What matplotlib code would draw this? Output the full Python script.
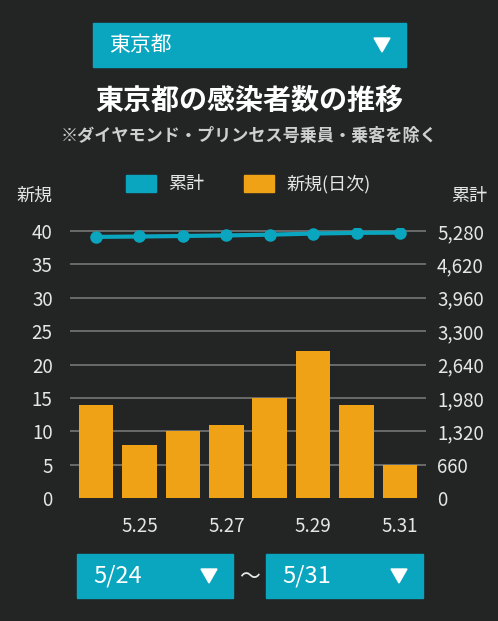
import numpy as np
import matplotlib
matplotlib.use('Agg')
import matplotlib.pyplot as plt
from matplotlib.patches import Rectangle, Polygon

plt.rcParams['font.family'] = ['Noto Sans CJK JP', 'DejaVu Sans']

# data
dates = ['5.24', '5.25', '5.26', '5.27', '5.28', '5.29', '5.30', '5.31']
new_cases = [14, 8, 10, 11, 15, 22, 14, 5]
total_cases = [5164, 5172, 5182, 5193, 5208, 5230, 5244, 5249]
left_ticks = [0, 5, 10, 15, 20, 25, 30, 35, 40]
right_ticks = [0, 660, 1320, 1980, 2640, 3300, 3960, 4620, 5280]
shown_dates = ['5.25', '5.27', '5.29', '5.31']

BG = '#232525'
TEAL = '#0aa6bf'
ORANGE = '#f0a216'
GRID = '#6f7070'
TXT = '#e6e6e6'

W, H = 498, 621
fig = plt.figure(figsize=(W / 100, H / 100), dpi=100, facecolor=BG)

# main chart axes, placed in pixels
x0, x1 = 70, 426
y_zero, y_top = 498, 227.7
ax = fig.add_axes([x0 / W, 1 - y_zero / H, (x1 - x0) / W, (y_zero - y_top) / H])
ax.set_facecolor('none')
ymax = 40.5
ax.set_ylim(0, ymax)
ax.set_xlim(-0.6, 7.6)

for v in left_ticks[1:]:
    ax.axhline(v, color=GRID, lw=1.3, zorder=0)

x = np.arange(len(dates))
ax.bar(x, new_cases, width=0.8, color=ORANGE, zorder=2)

ax.set_yticks(left_ticks)
ax.set_yticklabels([str(v) for v in left_ticks])
ax.set_xticks([dates.index(d) for d in shown_dates])
ax.set_xticklabels(shown_dates)
ax.tick_params(length=0, colors=TXT, labelsize=13.5)
ax.tick_params(axis='y', pad=12.5)
ax.tick_params(axis='x', pad=13)
for s in ax.spines.values():
    s.set_visible(False)

ax2 = ax.twinx()
ax2.set_ylim(0, 5280 * ymax / 40)
ax2.plot(x, total_cases, color=TEAL, lw=3, marker='o', ms=8, zorder=3)
ax2.set_yticks(right_ticks)
ax2.set_yticklabels([f'{v:,}' for v in right_ticks])
ax2.tick_params(length=0, colors=TXT, labelsize=13.5, pad=8)
for s in ax2.spines.values():
    s.set_visible(False)

# overlay in pixel coords for the page furniture
ov = fig.add_axes([0, 0, 1, 1], zorder=-1)
ov.set_xlim(0, W)
ov.set_ylim(H, 0)
ov.axis('off')
ov.patch.set_alpha(0)

def dropdown(xa, xb, ya, yb, label, size):
    ov.add_patch(Rectangle((xa, ya), xb - xa, yb - ya, color=TEAL))
    ov.text(xa + 16, (ya + yb) / 2, label, color='white', fontsize=size,
            va='center', ha='left')
    cx, cy = xb - 24, (ya + yb) / 2
    ov.add_patch(Polygon([(cx - 8, cy - 7), (cx + 8, cy - 7), (cx, cy + 7)],
                         color='white'))

dropdown(93, 406, 23, 67, '東京都', 15)
dropdown(77, 233, 554, 598, '5/24', 17)
dropdown(266, 423, 554, 598, '5/31', 17)
ov.text(249.5, 577, '〜', color=TXT, fontsize=15, ha='center', va='center')

ov.text(249, 101, '東京都の感染者数の推移', color='white', fontsize=20.2,
        fontweight='bold', ha='center', va='center')
ov.text(249, 136, '※ダイヤモンド・プリンセス号乗員・乗客を除く', color='#cfcfcf',
        fontsize=12.3, fontweight='bold', ha='center', va='center')

# legend
ov.add_patch(Rectangle((126, 175), 30, 17, color=TEAL))
ov.text(168, 184, '累計', color=TXT, fontsize=13, va='center')
ov.add_patch(Rectangle((244, 175), 30, 17, color=ORANGE))
ov.text(286, 184, '新規(日次)', color=TXT, fontsize=13, va='center')

ov.text(34, 196, '新規', color=TXT, fontsize=13, ha='center', va='center')
ov.text(469, 196, '累計', color=TXT, fontsize=13, ha='center', va='center')

fig.savefig('out.png', dpi=100, facecolor=BG)
